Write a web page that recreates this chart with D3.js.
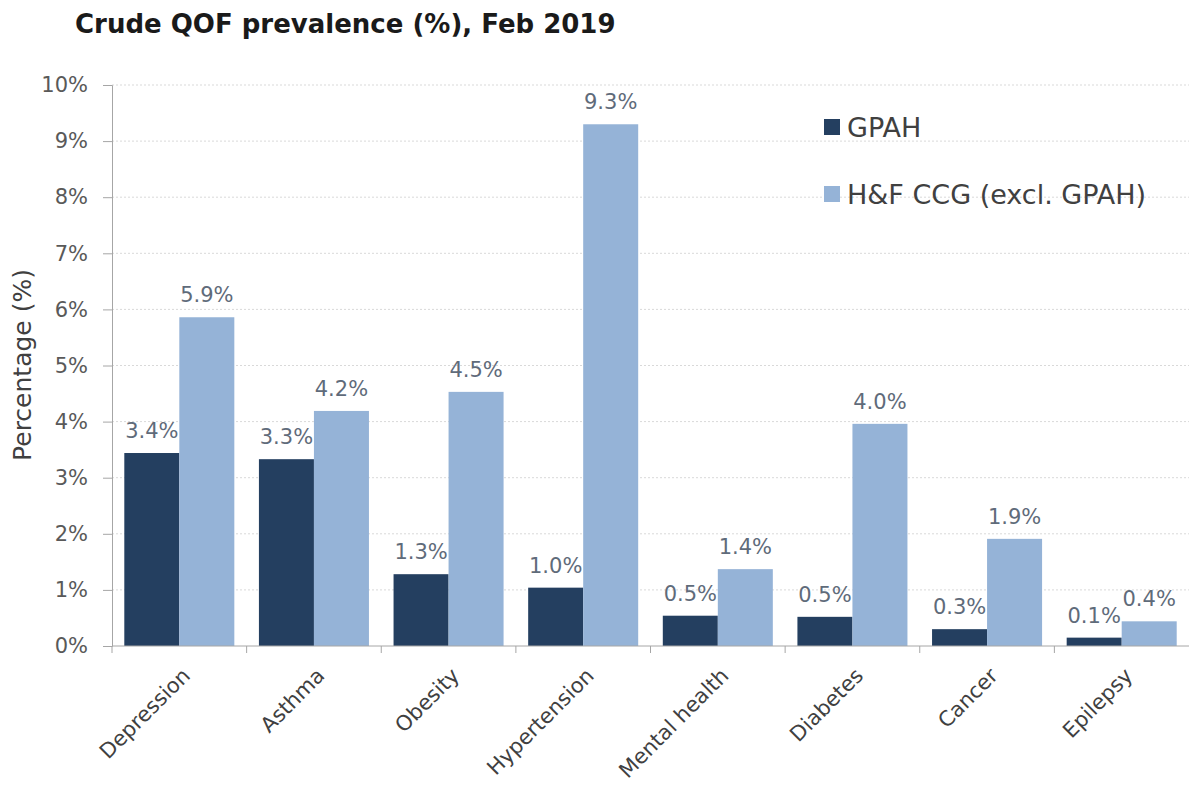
<!DOCTYPE html>
<html>
<head>
<meta charset="utf-8">
<script src="https://cdn.jsdelivr.net/npm/d3@7"></script>
<style>
  html, body { margin: 0; padding: 0; background: #ffffff; }
  svg { display: block; }
  text { font-family: "DejaVu Sans", sans-serif; }
</style>
</head>
<body>
<svg id="chart" width="1189" height="787"></svg>
<script>
const categories = ["Depression", "Asthma", "Obesity", "Hypertension", "Mental health", "Diabetes", "Cancer", "Epilepsy"];
const seriesNames = ["GPAH", "H&F CCG (excl. GPAH)"];
const gpah = [3.44, 3.33, 1.28, 1.04, 0.54, 0.52, 0.30, 0.149];
const hfccg = [5.86, 4.19, 4.53, 9.30, 1.37, 3.96, 1.91, 0.44];
const yTicks = [0, 1, 2, 3, 4, 5, 6, 7, 8, 9, 10];
const colors = ["#243f60", "#95b3d7"];

const svg = d3.select("#chart");
const mLeft = 112, mRight = 1189, mTop = 85, mBottom = 646;

const x = d3.scaleBand().domain(categories).range([mLeft, mRight]).paddingInner(0).paddingOuter(0);
const inner = d3.scaleBand().domain(seriesNames).range([12.3, x.bandwidth() - 12.3]).padding(0);
const y = d3.scaleLinear().domain([0, 10]).range([mBottom, mTop]);

// gridlines
svg.append("g").selectAll("line").data(yTicks.slice(1)).join("line")
  .attr("x1", mLeft).attr("x2", mRight)
  .attr("y1", d => y(d)).attr("y2", d => y(d))
  .attr("stroke", "#d9d9d9").attr("stroke-width", 1).attr("stroke-dasharray", "2,2");

// title
svg.append("text").attr("x", 75).attr("y", 33)
  .attr("font-size", 26).attr("font-weight", "bold").attr("fill", "#1a1a1a")
  .text("Crude QOF prevalence (%), Feb 2019");

// bars
const rows = categories.map((c, i) => ({ c, vals: [gpah[i], hfccg[i]] }));
const groups = svg.append("g").selectAll("g").data(rows).join("g")
  .attr("transform", d => `translate(${x(d.c)},0)`);

groups.selectAll("rect").data(d => d.vals.map((v, j) => ({ v, s: seriesNames[j], j }))).join("rect")
  .attr("x", d => inner(d.s))
  .attr("width", inner.bandwidth())
  .attr("y", d => y(d.v))
  .attr("height", d => y(0) - y(d.v))
  .attr("fill", d => colors[d.j]);

const fmt = d3.format(".1f");
groups.selectAll("text.lbl").data(d => d.vals.map((v, j) => ({ v, s: seriesNames[j], j }))).join("text")
  .attr("class", "lbl")
  .attr("x", d => inner(d.s) + inner.bandwidth() / 2)
  .attr("y", d => y(d.v) - 15)
  .attr("text-anchor", "middle")
  .attr("font-size", 21)
  .attr("fill", "#5f6b7a")
  .text(d => fmt(d.v) + "%");

// y axis
const yAxis = d3.axisLeft(y).tickValues(yTicks).tickFormat(d => d + "%").tickSize(9).tickPadding(15);
const gy = svg.append("g").attr("transform", `translate(${mLeft},0)`).call(yAxis);
gy.select(".domain").attr("stroke", "#a6a6a6");
gy.selectAll(".tick line").attr("stroke", "#a6a6a6");
gy.selectAll(".tick text").attr("font-size", 21).attr("fill", "#595959").attr("font-family", "DejaVu Sans, sans-serif");

// x axis
const gx = svg.append("g").attr("transform", `translate(0,${mBottom})`);
gx.append("line").attr("x1", mLeft).attr("x2", mRight).attr("y1", 0).attr("y2", 0).attr("stroke", "#a6a6a6");
gx.selectAll("line.tk").data(categories).join("line").attr("class", "tk")
  .attr("x1", d => x(d)).attr("x2", d => x(d)).attr("y1", 0).attr("y2", 7)
  .attr("stroke", "#a6a6a6");
gx.selectAll("text").data(categories).join("text")
  .attr("transform", d => `translate(${x(d) + x.bandwidth() / 2 + 12},${31}) rotate(-45)`)
  .attr("text-anchor", "end")
  .attr("font-size", 21)
  .attr("fill", "#404040")
  .text(d => d);

// y title
svg.append("text")
  .attr("transform", `translate(31,365) rotate(-90)`)
  .attr("text-anchor", "middle")
  .attr("font-size", 25)
  .attr("fill", "#404040")
  .text("Percentage (%)");

// legend
const lg = svg.append("g").selectAll("g").data(seriesNames).join("g")
  .attr("transform", (d, i) => `translate(824,${127 + i * 67})`);
lg.append("rect").attr("x", 0).attr("y", -8).attr("width", 16).attr("height", 16)
  .attr("fill", (d, i) => colors[i]);
lg.append("text").attr("x", 23).attr("y", 0).attr("dy", "0.36em")
  .attr("font-size", 27).attr("fill", "#404040").text(d => d);
</script>
</body>
</html>
